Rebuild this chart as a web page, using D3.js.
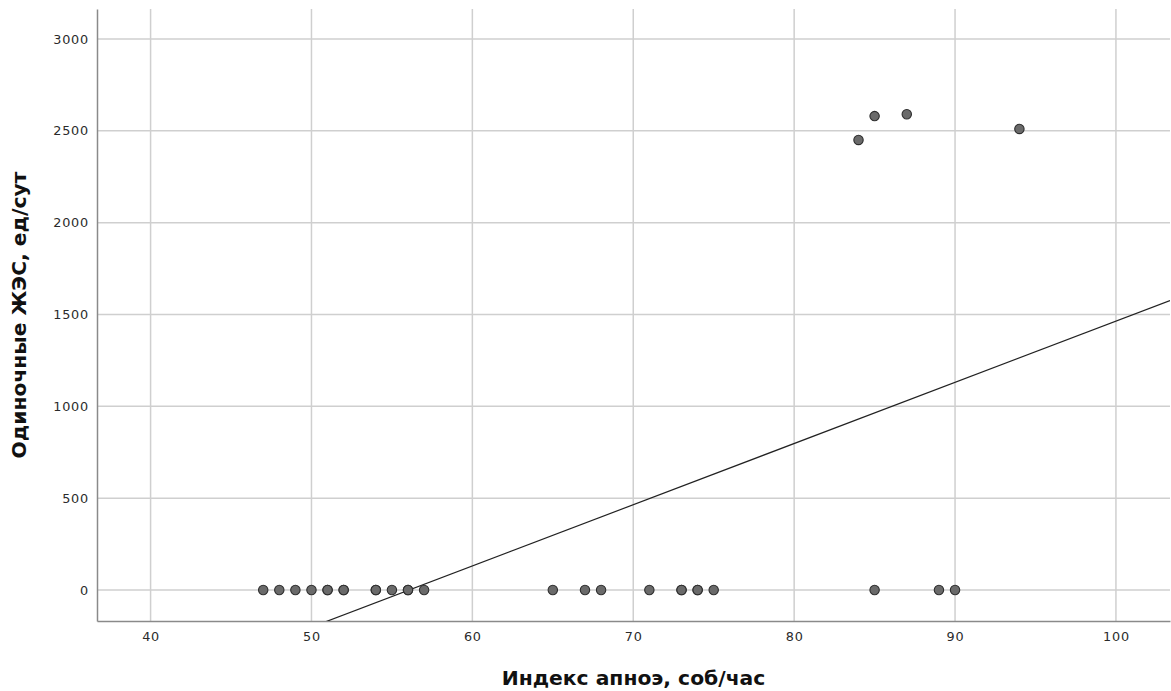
<!DOCTYPE html>
<html><head><meta charset="utf-8">
<script src="https://cdn.jsdelivr.net/npm/d3@7"></script>
<style>
html,body{margin:0;padding:0;background:#fff;}
svg{display:block;}
</style></head>
<body>
<svg id="chart" width="1171" height="691"></svg>
<script>
// Data: apnea index (x) vs single PVCs per day (y)
const apneaIndex = [47,48,49,50,51,51,52,52,54,54,55,56,56,57,65,67,68,71,73,73,74,74,75,85,89,90,84,85,87,94];
const pvcPerDay  = [0,0,0,0,0,0,0,0,0,0,0,0,0,0,0,0,0,0,0,0,0,0,0,0,0,0,2450,2580,2590,2510];
const xTicks = [40,50,60,70,80,90,100];
const yTicks = [0,500,1000,1500,2000,2500,3000];
const xLabel = "Индекс апноэ, соб/час";
const yLabel = "Одиночные ЖЭС, ед/сут";

const W = 1171, H = 691;
const m = {left: 97, right: 1170, top: 9, bottom: 621};
const svg = d3.select("#chart");

const x = d3.scaleLinear().domain([36.67, 103.36]).range([m.left, m.right]);
const y = d3.scaleLinear().domain([-168.7, 3163]).range([m.bottom, m.top]);

// grid
const grid = svg.append("g");
grid.selectAll("line.vx").data(xTicks).join("line")
  .attr("x1", d => x(d)).attr("x2", d => x(d))
  .attr("y1", m.top).attr("y2", m.bottom)
  .attr("stroke", "#cfcfcf").attr("stroke-width", 1.5);
grid.selectAll("line.hy").data(yTicks).join("line")
  .attr("x1", m.left).attr("x2", m.right)
  .attr("y1", d => y(d)).attr("y2", d => y(d))
  .attr("stroke", "#cfcfcf").attr("stroke-width", 1.5);

// axes
const xAxis = svg.append("g").attr("transform", `translate(0,${m.bottom})`)
  .call(d3.axisBottom(x).tickValues(xTicks).tickSize(0).tickPadding(11));
const yAxis = svg.append("g").attr("transform", `translate(${m.left},0)`)
  .call(d3.axisLeft(y).tickValues(yTicks).tickSize(0).tickPadding(8).tickFormat(d3.format("d")));
[xAxis, yAxis].forEach(g => {
  g.select(".domain").attr("stroke", "#8a8a8a").attr("stroke-width", 1.5);
  g.selectAll("text").attr("font-family", "DejaVu Sans, sans-serif")
    .attr("font-size", 12.8).attr("letter-spacing", "0.8px").attr("fill", "#2a2a2a");
});

// regression line (OLS from data), clipped to plot area
const n = apneaIndex.length;
const mx = d3.mean(apneaIndex), my = d3.mean(pvcPerDay);
let sxy = 0, sxx = 0;
for (let i = 0; i < n; i++) { sxy += (apneaIndex[i]-mx)*(pvcPerDay[i]-my); sxx += (apneaIndex[i]-mx)**2; }
const slope = sxy / sxx, intercept = my - slope * mx;
svg.append("clipPath").attr("id", "clip").append("rect")
  .attr("x", m.left).attr("y", m.top).attr("width", m.right - m.left).attr("height", m.bottom - m.top);
const xd = x.domain();
svg.append("line").attr("clip-path", "url(#clip)")
  .attr("x1", x(xd[0])).attr("y1", y(intercept + slope * xd[0]))
  .attr("x2", x(xd[1])).attr("y2", y(intercept + slope * xd[1]))
  .attr("stroke", "#222").attr("stroke-width", 1.2);

// points
svg.append("g").selectAll("circle").data(apneaIndex.map((v, i) => [v, pvcPerDay[i]])).join("circle")
  .attr("cx", d => x(d[0])).attr("cy", d => y(d[1])).attr("r", 4.7)
  .attr("fill", "#6a6a6a").attr("stroke", "#2e2e2e").attr("stroke-width", 1.1);

// labels
svg.append("text").attr("x", (m.left + m.right) / 2).attr("y", 685)
  .attr("text-anchor", "middle").attr("font-family", "DejaVu Sans, sans-serif")
  .attr("font-weight", "bold").attr("font-size", 20.3).attr("fill", "#111").text(xLabel);
svg.append("text").attr("transform", `translate(26,${(m.top + m.bottom) / 2}) rotate(-90)`)
  .attr("text-anchor", "middle").attr("font-family", "DejaVu Sans, sans-serif")
  .attr("font-weight", "bold").attr("font-size", 20.3).attr("fill", "#111").text(yLabel);
</script>
</body></html>
